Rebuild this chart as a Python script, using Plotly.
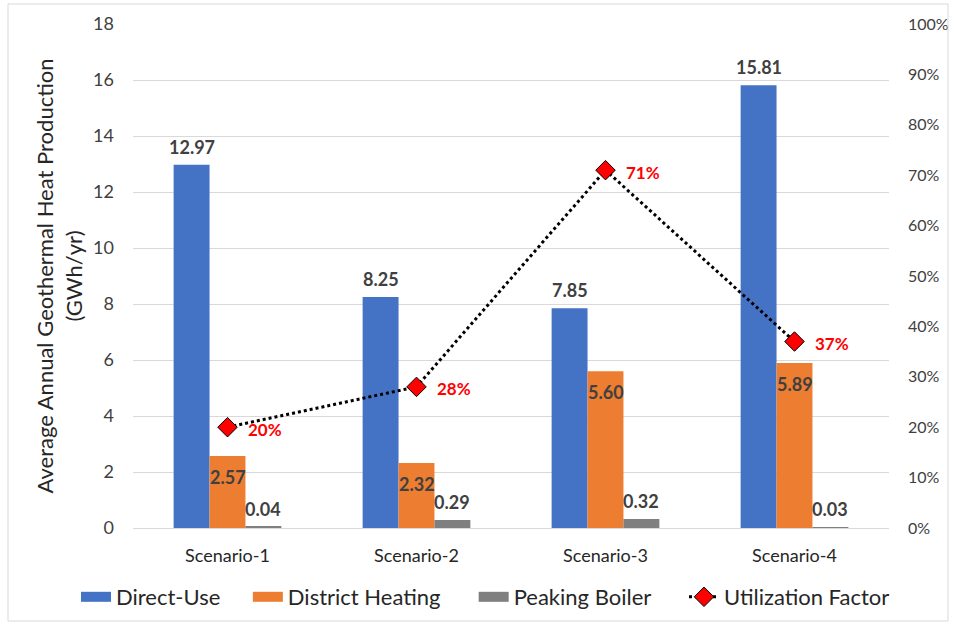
import plotly.graph_objects as go

scenarios = ["Scenario-1", "Scenario-2", "Scenario-3", "Scenario-4"]
direct_use = [12.97, 8.25, 7.85, 15.81]
district_heating = [2.57, 2.32, 5.60, 5.89]
peaking_boiler = [0.04, 0.29, 0.32, 0.03]
utilization = [0.20, 0.28, 0.71, 0.37]

left_ticks = [0, 2, 4, 6, 8, 10, 12, 14, 16, 18]
right_ticks = [0, 0.1, 0.2, 0.3, 0.4, 0.5, 0.6, 0.7, 0.8, 0.9, 1.0]

bar_series = [
    ("Direct-Use", direct_use, "#4472C4"),
    ("District Heating", district_heating, "#ED7D31"),
    ("Peaking Boiler", peaking_boiler, "#7F7F7F"),
]

FONT = "Lato, Carlito, Calibri, sans-serif"
LABEL_FONT = dict(family=FONT, size=18, color="#404040", weight="bold")
PCT_FONT = dict(family=FONT, size=17, color="#FF0000", weight="bold")

# plot area spans x 133..889, y 24..528 in a 956x625 canvas
L, R, T, B = 133, 889, 24, 528
W, H = R - L, B - T
BARGAP = 0.43
bar_px = W / len(scenarios) * (1 - BARGAP) / len(bar_series)


def px(xp):
    return (xp - L) / W


def py(yp):
    return (B - yp) / H


fig = go.Figure()

for name, values, color in bar_series:
    fig.add_trace(go.Bar(
        x=scenarios, y=values, name=name, showlegend=False,
        marker=dict(color=color, line=dict(width=0)),
        hoverinfo="x+y",
    ))

fig.add_trace(go.Scatter(
    x=scenarios, y=utilization, name="Utilization Factor", yaxis="y2",
    mode="lines+markers", showlegend=False,
    line=dict(color="black", width=3, dash="dot"),
    marker=dict(symbol="diamond", size=15, color="#FF0000",
                line=dict(color="black", width=1)),
))

# value labels: above the blue and grey bars, just inside the top of the orange bars
annotations = []
for i, (name, values, _) in enumerate(bar_series):
    shift = (i - 1) * bar_px
    inside = name == "District Heating"
    for cat, v in zip(scenarios, values):
        annotations.append(dict(
            x=cat, y=v, xref="x", yref="y", text=f"{v:.2f}",
            showarrow=False, xshift=shift, yshift=-21 if inside else 18,
            yanchor="middle", xanchor="center", font=LABEL_FONT,
        ))
for cat, v in zip(scenarios, utilization):
    annotations.append(dict(
        x=cat, y=v, xref="x", yref="y2", text=f"{round(v * 100)}%",
        showarrow=False, xshift=18, yshift=-2,
        xanchor="left", yanchor="middle", font=PCT_FONT,
    ))

# legend entries: wide colour swatches for the bar series, dotted line + diamond for the ratio
pads = ["\u00a0" * 4, "\u00a0" * 5, "\u00a0" * 5]
for (name, _, color), pad in zip(bar_series, pads):
    fig.add_trace(go.Scatter(
        x=[None], y=[None], name=name + pad, mode="lines",
        line=dict(color=color, width=15),
    ))
fig.add_trace(go.Scatter(
    x=[None], y=[None], name="Utilization Factor", yaxis="y2",
    mode="lines+markers",
    line=dict(color="black", width=3, dash="dot"),
    marker=dict(symbol="diamond", size=15, color="#FF0000",
                line=dict(color="black", width=1)),
))

fig.update_layout(
    width=956, height=625,
    margin=dict(l=L, r=956 - R, t=T, b=625 - B, autoexpand=False),
    paper_bgcolor="white", plot_bgcolor="white",
    font=dict(family=FONT, size=18, color="#262626"),
    barmode="group", bargap=BARGAP, bargroupgap=0,
    showlegend=True,
    legend=dict(
        orientation="h", x=px(76), xanchor="left", y=py(597), yanchor="middle",
        font=dict(family=FONT, size=22, color="#262626"),
        itemwidth=30, traceorder="normal", bgcolor="rgba(0,0,0,0)",
    ),
    xaxis=dict(
        showgrid=False, showline=True, linecolor="#D9D9D9", linewidth=1,
        ticks="", ticklabelstandoff=11,
        tickfont=dict(size=18, color="#262626"),
    ),
    yaxis=dict(
        range=[0, 18], tickvals=left_ticks, showgrid=True,
        gridcolor="#D9D9D9", gridwidth=1, zeroline=False,
        ticks="", ticklabelstandoff=18,
        tickfont=dict(size=18, color="#404040"),
        title=dict(text="Average Annual Geothermal Heat Production<br>(GWh/yr)",
                   font=dict(size=22, color="#262626"), standoff=4),
    ),
    yaxis2=dict(
        range=[0, 1], tickvals=right_ticks, tickformat=".0%",
        overlaying="y", side="right", showgrid=False, zeroline=False,
        ticks="", ticklabelstandoff=18, automargin=False,
        tickfont=dict(size=16, color="#404040"),
    ),
    annotations=annotations,
    shapes=[dict(
        type="rect", xref="paper", yref="paper",
        x0=px(8), x1=px(948), y0=py(621), y1=py(4),
        line=dict(color="#D9D9D9", width=1), fillcolor="rgba(0,0,0,0)",
        layer="above",
    )],
)

fig.write_html("out.html")
